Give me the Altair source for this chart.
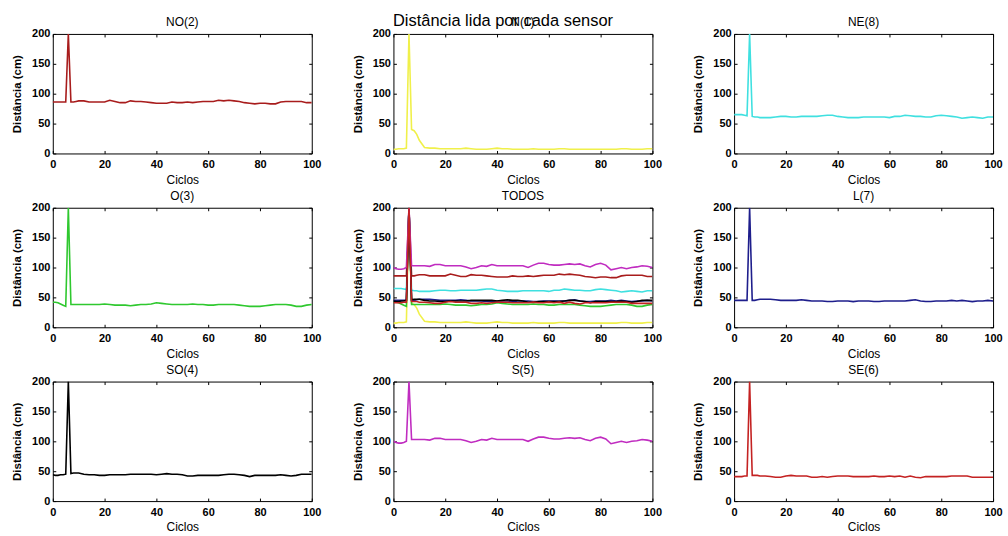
import altair as alt
import pandas as pd

MAIN_TITLE = "Distância lida por cada sensor"
X_TITLE = "Ciclos"
Y_TITLE = "Distância (cm)"
X_TICKS = [0, 20, 40, 60, 80, 100]
Y_TICKS = [0, 50, 100, 150, 200]

CYCLES = [0, 1, 2, 3, 4, 5, 6, 7, 8, 9, 10, 12, 14, 16, 18, 20, 22, 24, 26, 28,
          30, 32, 34, 36, 38, 40, 42, 44, 46, 48, 50, 52, 54, 56, 58, 60, 62, 64,
          66, 68, 70, 72, 74, 76, 78, 80, 82, 84, 86, 88, 90, 92, 94, 96, 98, 100]

NO2 = [86, 86, 86, 86, 86, 86, 200, 86, 86, 87, 88, 88, 86, 86, 86, 86, 89, 87, 85, 85,
       88, 87, 87, 86, 85, 84, 84, 84, 86, 85, 85, 86, 85, 86, 87, 87, 87, 89,
       88, 89, 88, 87, 85, 84, 83, 84, 84, 83, 83, 86, 87, 87, 87, 87, 85, 85]
N1 = [7, 7, 8, 8, 8, 9, 200, 40, 38, 32, 22, 10, 9, 9, 8, 8, 8, 8, 8, 9,
      8, 7, 7, 7, 8, 9, 8, 8, 7, 7, 7, 7, 8, 7, 7, 7, 7, 8,
      8, 7, 7, 7, 7, 7, 7, 7, 7, 7, 7, 8, 8, 7, 7, 7, 8, 8]
NE8 = [65, 65, 65, 65, 64, 63, 200, 62, 61, 61, 60, 60, 60, 61, 62, 62, 61, 61, 62, 62,
       62, 62, 63, 64, 64, 62, 61, 60, 60, 60, 61, 61, 61, 61, 61, 60, 62, 62,
       64, 63, 62, 62, 61, 61, 63, 64, 63, 62, 61, 59, 60, 61, 60, 59, 61, 61]
O3 = [42, 42, 41, 39, 37, 35, 200, 38, 38, 38, 38, 38, 38, 38, 38, 39, 38, 37, 37, 37,
      36, 37, 38, 38, 39, 41, 40, 39, 38, 38, 38, 38, 39, 38, 38, 37, 37, 38,
      38, 38, 38, 37, 36, 35, 35, 35, 36, 37, 38, 38, 38, 37, 35, 35, 37, 38]
L7 = [45, 45, 45, 45, 45, 45, 200, 45, 45, 46, 47, 47, 47, 46, 45, 45, 45, 45, 46, 45,
      44, 44, 44, 43, 43, 44, 44, 44, 43, 44, 44, 44, 43, 43, 44, 44, 44, 44,
      44, 45, 46, 44, 43, 43, 44, 44, 44, 45, 44, 45, 44, 43, 44, 44, 45, 44]
SO4 = [44, 43, 43, 44, 44, 45, 200, 46, 47, 47, 47, 45, 44, 44, 43, 43, 44, 44, 44, 44,
       45, 45, 45, 45, 45, 44, 45, 46, 45, 45, 44, 42, 42, 43, 43, 43, 43, 43,
       44, 45, 45, 44, 43, 41, 43, 43, 43, 43, 43, 44, 43, 42, 43, 45, 45, 45]
S5 = [100, 98, 97, 97, 98, 100, 200, 103, 103, 103, 103, 103, 102, 105, 105, 103, 103, 103, 103, 101,
      98, 100, 103, 102, 105, 103, 103, 103, 103, 103, 103, 100, 104, 107, 107, 105, 104, 104,
      105, 106, 105, 106, 103, 101, 105, 107, 104, 96, 98, 100, 98, 100, 101, 103, 102, 100]
SE6 = [41, 41, 41, 41, 42, 42, 200, 43, 43, 43, 42, 42, 41, 40, 40, 42, 43, 42, 42, 42,
       40, 40, 41, 40, 41, 42, 42, 42, 41, 41, 41, 41, 42, 41, 41, 42, 41, 42,
       40, 42, 40, 39, 41, 41, 41, 41, 41, 42, 42, 42, 42, 40, 40, 40, 40, 40]

SENSORS = ["NO(2)", "N(1)", "NE(8)", "O(3)", "L(7)", "SO(4)", "S(5)", "SE(6)"]
SERIES = [NO2, N1, NE8, O3, L7, SO4, S5, SE6]
COLORS = ["#a81c1c", "#f0f04a", "#3fe0e0", "#2fc82f", "#1e1e8c", "#000000", "#c02cc0", "#c42222"]
PANEL_ORDER = ["NO(2)", "N(1)", "NE(8)", "O(3)", "TODOS", "L(7)", "SO(4)", "S(5)", "SE(6)"]

FONT = "Liberation Sans"


def frame_df(name, vals):
    return pd.DataFrame({"ciclo": CYCLES, "dist": vals, "sensor": name})


all_df = pd.concat([frame_df(n, v) for n, v in zip(SENSORS, SERIES)], ignore_index=True)

xs = alt.Scale(domain=[0, 100], nice=False, zero=False)
ys = alt.Scale(domain=[0, 200], nice=False)

x_axis = alt.Axis(orient="bottom", values=X_TICKS, offset=-3, tickSize=3, domain=False,
                  grid=False, labelPadding=5, title=X_TITLE, titlePadding=5,
                  labelFlush=False)
y_axis = alt.Axis(orient="left", values=Y_TICKS, offset=-3, tickSize=3, domain=False,
                  grid=False, labelPadding=3, title=Y_TITLE, titlePadding=9)
x_top = alt.Axis(orient="top", values=X_TICKS, offset=-3, tickSize=3, domain=False,
                 grid=False, labels=False, title=None)
y_right = alt.Axis(orient="right", values=Y_TICKS, offset=-3, tickSize=3, domain=False,
                   grid=False, labels=False, title=None)


def panel(name):
    if name == "TODOS":
        df = all_df
        color = alt.Color("sensor:N", scale=alt.Scale(domain=SENSORS, range=COLORS), legend=None)
    else:
        i = SENSORS.index(name)
        df = frame_df(name, SERIES[i])
        color = alt.value(COLORS[i])
    base = alt.Chart(df)
    line = base.mark_line(strokeWidth=1.6, clip=True).encode(
        x=alt.X("ciclo:Q", scale=xs, axis=x_axis),
        y=alt.Y("dist:Q", scale=ys, axis=y_axis),
        color=color,
        detail="sensor:N",
    )
    ticks = base.mark_line(opacity=0).encode(
        x=alt.X("ciclo:Q", scale=xs, axis=x_top),
        y=alt.Y("dist:Q", scale=ys, axis=y_right),
    )
    title = alt.Chart(pd.DataFrame({"t": [name]})).mark_text(
        font=FONT, fontSize=12, baseline="alphabetic", align="center", color="black"
    ).encode(text="t:N", x=alt.value(130), y=alt.value(-8))
    layers = [line, ticks, title]
    if name == "N(1)":
        t = alt.Chart(pd.DataFrame({"t": [MAIN_TITLE]})).mark_text(
            font=FONT, fontSize=16.5, baseline="alphabetic", align="center", color="black"
        ).encode(text="t:N", x=alt.value(110), y=alt.value(-8))
        layers.append(t)
    return alt.layer(*layers).resolve_axis(x="independent", y="independent").properties(
        width=260, height=120,
    )


chart = alt.concat(*[panel(n) for n in PANEL_ORDER], columns=3,
                   spacing={"row": 54.5, "column": 82}, bounds="flush").properties(
    padding={"left": 11, "top": 11, "right": 5, "bottom": 5},
    background="white",
).configure_view(stroke="black", strokeWidth=1).configure_axis(
    labelFont=FONT, labelFontSize=11, labelFontWeight="bold", labelColor="black",
    titleFont=FONT, titleFontSize=11.5, titleFontWeight="bold", titleColor="black",
    tickColor="black", tickWidth=1,
).configure_axisX(titleFontWeight="normal", titleFontSize=12)

chart.save("out.html", embed_options={"renderer": "svg", "actions": False})
